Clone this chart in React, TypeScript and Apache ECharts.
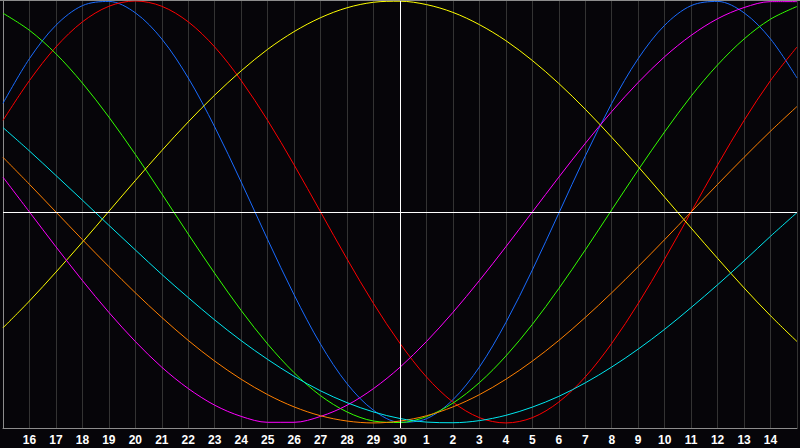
import React, { useEffect, useRef } from 'react';
import * as echarts from 'echarts';

// day labels, one per grid column (15 .. 30, 1 .. 15)
const days = [
  '15', '16', '17', '18', '19', '20', '21', '22', '23', '24', '25', '26', '27', '28', '29', '30',
  '1', '2', '3', '4', '5', '6', '7', '8', '9', '10', '11', '12', '13', '14', '15',
];

// cycle values, -100 .. 100 at each day line
const blue = [51.5, 72.7, 88.5, 97.8, 99.8, 94.4, 82.0, 63.5, 40.3, 14.2, -13.1, -39.3, -62.7, -81.4, -94.0, -99.7, -98.0, -89.0, -73.5, -52.4, -27.5, -0.6, 26.5, 51.5, 72.7, 88.5, 97.8, 99.8, 94.4, 82.0, 63.5];
const red = [43.4, 62.3, 78.2, 90.1, 97.5, 100, 97.5, 90.1, 78.2, 62.3, 43.4, 22.3, 0, -22.3, -43.4, -62.3, -78.2, -90.1, -97.5, -100, -97.5, -90.1, -78.2, -62.3, -43.4, -22.3, 0, 22.3, 43.4, 62.3, 78.2];
const green = [94.2, 86.1, 75.0, 61.1, 45.0, 27.3, 8.6, -10.5, -29.1, -46.7, -62.6, -76.2, -87.1, -94.8, -99.1, -99.8, -97.0, -90.6, -80.9, -68.3, -53.3, -36.3, -18.0, 1.0, 19.9, 38.0, 54.9, 69.7, 82.0, 91.4, 97.4];
const yellow = [-54.9, -42.2, -28.5, -14.3, 0.3, 14.9, 29.1, 42.7, 55.4, 66.9, 77.1, 85.5, 92.1, 96.8, 99.4, 99.9, 98.3, 94.6, 88.8, 81.2, 71.8, 60.9, 48.7, 35.4, 21.5, 7.0, -7.6, -22.0, -36.0, -49.2, -61.4];
const magenta = [16.5, 0, -16.5, -32.5, -47.6, -61.4, -73.6, -83.7, -91.6, -96.9, -99.7, -99.7, -96.9, -91.6, -83.7, -73.6, -61.4, -47.6, -32.5, -16.5, 0, 16.5, 32.5, 47.6, 61.4, 73.6, 83.7, 91.6, 96.9, 99.7, 99.7];
const orange = [25.9, 13.1, 0, -13.1, -25.9, -38.3, -50, -60.9, -70.7, -79.3, -86.6, -92.4, -96.6, -99.1, -100, -99.1, -96.6, -92.4, -86.6, -79.3, -70.7, -60.9, -50, -38.3, -25.9, -13.1, 0, 13.1, 25.9, 38.3, 50];
const cyan = [40.0, 28.9, 17.3, 5.6, -6.3, -18.0, -29.6, -40.6, -51.2, -61.0, -69.9, -77.9, -84.8, -90.4, -94.8, -97.9, -99.6, -99.9, -98.9, -96.4, -92.5, -87.4, -81.0, -73.5, -65.0, -55.6, -45.3, -34.5, -23.2, -11.5, -0.3];

const todayIndex = 15;

const App: React.FC = () => {
  const chartRef = useRef<HTMLDivElement>(null);

  useEffect(() => {
    if (!chartRef.current) return;
    const chart = echarts.init(chartRef.current, null, { renderer: 'svg' });

    const curve = (name: string, data: number[], color: string, extra: any = {}) => ({
      name,
      type: 'line',
      data,
      smooth: 0.33,
      symbol: 'none',
      lineStyle: { color, width: 1 },
      itemStyle: { color },
      silent: true,
      ...extra,
    });

    chart.setOption({
      animation: false,
      backgroundColor: '#060509',
      grid: { left: 1, right: 0, top: 1, bottom: 20 },
      graphic: [
        {
          type: 'line',
          shape: { x1: 0, y1: 0.5, x2: 800, y2: 0.5 },
          style: { stroke: '#8c8c8c', lineWidth: 1 },
        },
      ],
      xAxis: {
        type: 'category',
        data: days,
        boundaryGap: false,
        axisLine: { show: true, onZero: false, lineStyle: { color: '#8c8c8c', width: 1 } },
        axisTick: { show: false },
        axisLabel: {
          interval: 0,
          margin: 6,
          color: '#ffffff',
          fontSize: 12,
          fontWeight: 'bold',
          fontFamily: 'Liberation Sans',
          formatter: (value: string, index: number) =>
            index === 0 || index === days.length - 1 ? '' : value,
        },
        splitLine: { show: true, interval: 0, lineStyle: { color: '#333333', width: 1 } },
      },
      yAxis: {
        type: 'value',
        min: -102.4,
        max: 100,
        axisLine: { show: true, lineStyle: { color: '#8c8c8c', width: 1 } },
        axisTick: { show: false },
        axisLabel: { show: false },
        splitLine: { show: false },
      },
      series: [
        curve('physical', blue, '#1a6cff', {
          markLine: {
            silent: true,
            symbol: 'none',
            label: { show: false },
            lineStyle: { color: '#ffffff', type: 'solid', width: 1 },
            data: [{ xAxis: todayIndex }, { yAxis: 0 }],
          },
        }),
        curve('emotional', red, '#ff0000'),
        curve('intellectual', green, '#33ff00'),
        curve('aesthetic', yellow, '#ffff00'),
        curve('intuition', magenta, '#ff00ff'),
        curve('awareness', orange, '#ff8000'),
        curve('spiritual', cyan, '#00e8f0'),
      ],
    });

    return () => chart.dispose();
  }, []);

  return (
    <div
      ref={chartRef}
      style={{ position: 'fixed', left: 0, top: 0, width: 800, height: 448, background: '#060509' }}
    />
  );
};

export default App;
